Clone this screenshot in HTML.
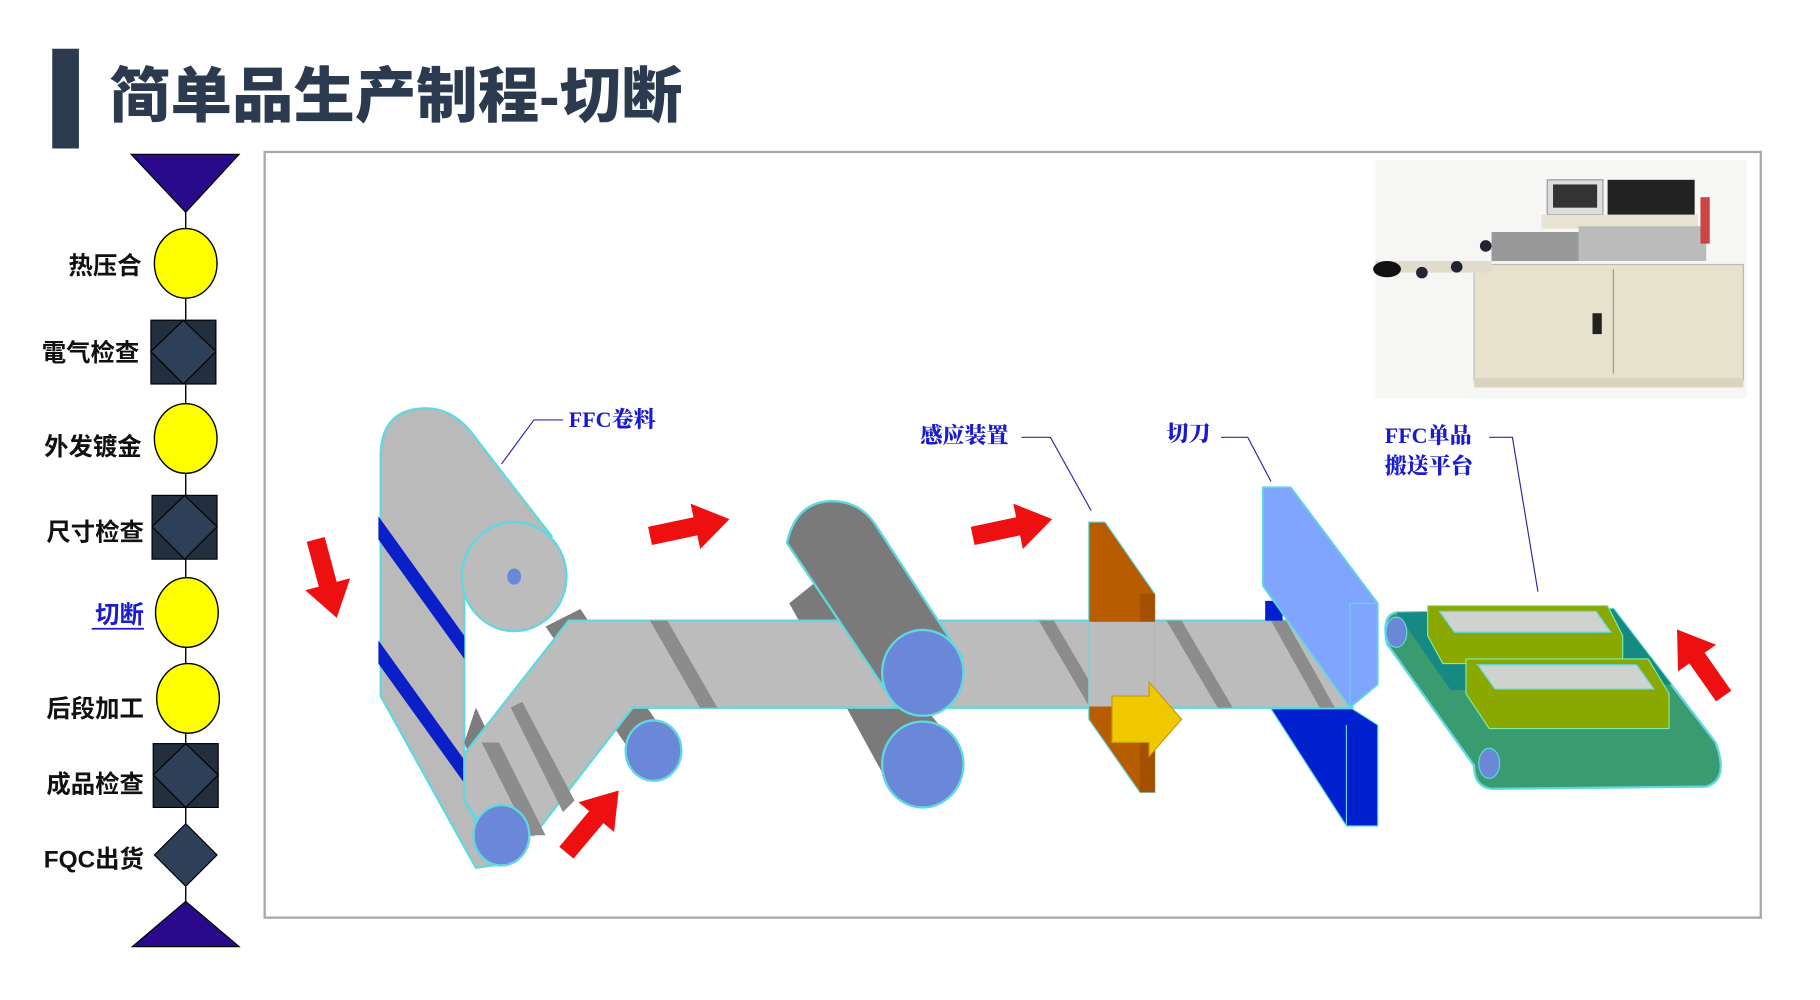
<!DOCTYPE html>
<html><head><meta charset="utf-8"><style>
html,body{margin:0;padding:0;background:#fff;width:1820px;height:1000px;overflow:hidden}
svg{display:block}
.lb{font-family:"Liberation Sans","Noto Sans CJK SC",sans-serif;font-weight:bold;font-size:21px;fill:#111}
.bl{font-family:"Liberation Serif","Noto Serif CJK SC",serif;font-weight:900;font-size:19px;fill:#1a1ad0}
</style></head><body>
<svg width="1820" height="1000" viewBox="0 0 1568 862" preserveAspectRatio="none">
<defs>
<polygon id="arr" points="0,-8 40,-8 40,-20 70,0 40,20 40,8 0,8" fill="#ee1010"/>
</defs>
<!-- title -->
<rect x="45" y="42" width="23" height="86" fill="#2b3a4e"/>
<text x="94" y="101" font-family="'Liberation Sans','Noto Sans CJK SC',sans-serif" font-weight="900" font-size="52" fill="#2b3a4e" textLength="494" lengthAdjust="spacingAndGlyphs">简单品生产制程-切断</text>

<!-- left flow -->
<line x1="160" y1="160" x2="160" y2="800" stroke="#000" stroke-width="1.2"/>
<polygon points="113,133 206,133 160,183" fill="#2a0a8a" stroke="#000"/>
<ellipse cx="160" cy="227" rx="27" ry="30" fill="#ffff00" stroke="#000" stroke-width="1.2"/>
<rect x="130" y="276" width="56" height="55" fill="#232f3f" stroke="#000"/>
<polygon points="158,276 186,303 158,331 130,303" fill="#2e4058" stroke="#000"/>
<ellipse cx="160" cy="378" rx="27" ry="30" fill="#ffff00" stroke="#000" stroke-width="1.2"/>
<rect x="131" y="427" width="56" height="55" fill="#232f3f" stroke="#000"/>
<polygon points="159,427 187,454 159,482 131,454" fill="#2e4058" stroke="#000"/>
<ellipse cx="161" cy="528" rx="27" ry="30" fill="#ffff00" stroke="#000" stroke-width="1.2"/>
<ellipse cx="162" cy="602" rx="27" ry="30" fill="#ffff00" stroke="#000" stroke-width="1.2"/>
<rect x="132" y="641" width="56" height="55" fill="#232f3f" stroke="#000"/>
<polygon points="160,641 188,668 160,696 132,668" fill="#2e4058" stroke="#000"/>
<polygon points="160,710 187,737 160,764 133,737" fill="#2e4058" stroke="#000"/>
<polygon points="114,816 206,816 160,777" fill="#2a0a8a" stroke="#000"/>
<text class="lb" x="122" y="236" text-anchor="end">热压合</text>
<text class="lb" x="120" y="311" text-anchor="end">電气检查</text>
<text class="lb" x="122" y="392" text-anchor="end">外发镀金</text>
<text class="lb" x="124" y="466" text-anchor="end">尺寸检查</text>
<text class="lb" x="124" y="537" text-anchor="end" style="fill:#1a1ad0">切断</text>
<line x1="79" y1="542" x2="124" y2="542" stroke="#1a1ad0" stroke-width="1.5"/>
<text class="lb" x="124" y="618" text-anchor="end">后段加工</text>
<text class="lb" x="124" y="683" text-anchor="end">成品检查</text>
<text class="lb" x="124" y="748" text-anchor="end">FQC出货</text>

<!-- frame -->
<rect x="228" y="131" width="1289" height="660" fill="#fff" stroke="#a8a8a8" stroke-width="2"/>

<!-- machine photo -->
<rect x="1185" y="138" width="320" height="205" fill="#f6f6f4"/>
<rect x="1270" y="228" width="232" height="100" fill="#e6e2cc" stroke="#bbb"/>
<line x1="1390" y1="232" x2="1390" y2="322" stroke="#999"/>
<rect x="1372" y="270" width="8" height="18" fill="#222"/>
<rect x="1270" y="326" width="232" height="8" fill="#d8d4c0"/>
<rect x="1333" y="155" width="48" height="30" fill="#ddd" stroke="#999"/>
<rect x="1338" y="159" width="38" height="20" fill="#333"/>
<rect x="1385" y="155" width="75" height="33" fill="#222"/>
<rect x="1328" y="185" width="135" height="12" fill="#e8e4d2"/>
<rect x="1285" y="200" width="80" height="25" fill="#999"/>
<rect x="1360" y="195" width="110" height="30" fill="#bbb"/>
<rect x="1185" y="225" width="100" height="10" fill="#e0dccb"/>
<ellipse cx="1195" cy="232" rx="12" ry="7" fill="#111"/>
<circle cx="1225" cy="235" r="5" fill="#223"/>
<circle cx="1255" cy="230" r="5" fill="#223"/>
<circle cx="1280" cy="212" r="5" fill="#223"/>
<rect x="1465" y="170" width="8" height="40" fill="#c44"/>

<!-- left supply roll -->
<path d="M328,390 Q330,352 367,352 Q392,352 410,378 L475,462 L400,490 L400,690 L432,745 L410,748 L328,600 Z" fill="#bababa" stroke="#5fd8e0" stroke-width="2"/>
<polygon points="326,445 400,548 400,568 326,465" fill="#0a1fc8"/>
<polygon points="326,552 400,655 400,675 326,572" fill="#0a1fc8"/>
<ellipse cx="443" cy="497" rx="45" ry="47" fill="#bcbcbc" stroke="#5fd8e0" stroke-width="2"/>
<ellipse cx="443" cy="497" rx="6" ry="7" fill="#6b87d8"/>
<!-- dark roller bodies -->
<polygon points="400,640 432,720 455,705 410,610" fill="#7d7d7d"/>
<polygon points="470,540 548,655 578,640 500,525" fill="#7d7d7d"/>
<!-- lower middle roller body (behind web) -->
<polygon points="680,520 705,500 830,650 765,675" fill="#7a7a7a"/>
<!-- web -->
<path d="M400,650 L490,535 L1165,535 L1165,610 L545,610 L460,720 L420,720 L400,690 Z" fill="#bcbcbc" stroke="#5fd8e0" stroke-width="2"/>
<polygon points="415,640 430,640 470,720 455,720" fill="#8c8c8c"/>
<polygon points="440,610 450,605 495,690 485,700" fill="#8c8c8c"/>
<polygon points="560,535 575,535 618,610 603,610" fill="#8c8c8c"/>
<polygon points="895,535 908,535 952,610 939,610" fill="#8c8c8c"/>
<polygon points="1005,535 1018,535 1062,610 1049,610" fill="#8c8c8c"/>
<polygon points="1095,535 1108,535 1150,610 1137,610" fill="#8c8c8c"/>
<ellipse cx="563" cy="647" rx="24" ry="26" fill="#6b87d8" stroke="#5fd8e0" stroke-width="2"/>
<ellipse cx="432" cy="720" rx="24" ry="26" fill="#6b87d8" stroke="#5fd8e0" stroke-width="2"/>

<!-- upper middle roller -->
<path d="M678,468 Q686,432 717,432 Q742,432 756,455 L829,567 L763,595 Z" fill="#7a7a7a" stroke="#5fd8e0" stroke-width="2"/>
<ellipse cx="795" cy="580" rx="35" ry="37" fill="#6b87d8" stroke="#5fd8e0" stroke-width="2"/>
<ellipse cx="795" cy="659" rx="35" ry="37" fill="#6b87d8" stroke="#5fd8e0" stroke-width="2"/>

<!-- sensor -->
<polygon points="938,450 952,450 995,512 995,683 982,683 938,620" fill="#b85c00" stroke="#5fd8e0" stroke-width="1"/>
<polygon points="982,512 995,512 995,683 982,683" fill="#a35000"/>
<rect x="938" y="536" width="57" height="73" fill="#bcbcbc"/>
<polygon points="958,600 990,600 990,588 1018,620 990,652 990,640 958,640" fill="#f0c800" stroke="#c89a00"/>

<!-- cutter -->
<polygon points="1090,518 1105,518 1105,535 1090,535" fill="#0020d0"/>
<polygon points="1095,611 1165,611 1187,625 1187,712 1160,712" fill="#0020d0" stroke="#5fd8e0" stroke-width="1"/>
<line x1="1160" y1="625" x2="1160" y2="712" stroke="#5fd8e0"/>
<polygon points="1088,420 1112,420 1187,520 1187,590 1163,610 1088,505" fill="#7fa5ff" stroke="#5fd8e0" stroke-width="1.5"/>
<line x1="1163" y1="520" x2="1163" y2="610" stroke="#5fd8e0"/>
<line x1="1163" y1="520" x2="1187" y2="520" stroke="#5fd8e0"/>

<!-- platform -->
<path d="M1203,528 L1390,525 L1478,640 Q1490,672 1470,678 L1285,680 Q1270,678 1270,660 L1195,555 Q1190,530 1203,528 Z" fill="#3a9a70" stroke="#5fd8e0" stroke-width="2"/>
<polygon points="1203,528 1390,525 1440,590 1250,595" fill="#168a82"/>
<ellipse cx="1203" cy="545" rx="9" ry="13" fill="#6b87d8" stroke="#5fd8e0"/>
<ellipse cx="1283" cy="658" rx="9" ry="13" fill="#6b87d8" stroke="#5fd8e0"/>
<polygon points="1230,522 1385,522 1398,548 1398,572 1243,572 1230,548" fill="#8aa800" stroke="#7ef0a0"/>
<polygon points="1240,527 1375,527 1388,545 1253,545" fill="#cfd3cf" stroke="#5fd8e0"/>
<polygon points="1263,568 1420,568 1438,598 1438,628 1283,628 1263,598" fill="#8aa800" stroke="#7ef0a0"/>
<polygon points="1273,573 1410,573 1425,594 1288,594" fill="#cfd3cf" stroke="#5fd8e0"/>

<!-- red arrows -->
<use href="#arr" transform="translate(560,462) rotate(-12)"/>
<use href="#arr" transform="translate(838,462) rotate(-12)"/>
<use href="#arr" transform="translate(272,465) rotate(75)"/>
<use href="#arr" transform="translate(488,735) rotate(-50)"/>
<use href="#arr" transform="translate(1485,600) rotate(-125)"/>

<!-- labels -->
<text class="bl" x="490" y="368">FFC卷料</text>
<polyline points="485,362 460,362 432,400" fill="none" stroke="#2a2aa0" stroke-width="1"/>
<text class="bl" x="793" y="382">感应装置</text>
<polyline points="880,377 905,377 940,440" fill="none" stroke="#2a2aa0" stroke-width="1"/>
<text class="bl" x="1005" y="380">切刀</text>
<polyline points="1052,377 1075,377 1095,415" fill="none" stroke="#2a2aa0" stroke-width="1"/>
<text class="bl" x="1193" y="382">FFC单品</text>
<text class="bl" x="1193" y="408">搬送平台</text>
<polyline points="1283,377 1303,377 1325,510" fill="none" stroke="#2a2aa0" stroke-width="1"/>
</svg>
</body></html>
